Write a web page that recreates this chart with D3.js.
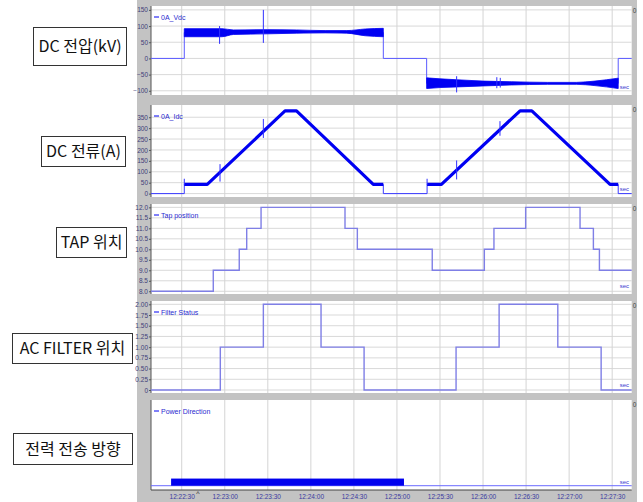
<!DOCTYPE html>
<html>
<head>
<meta charset="utf-8">
<script src="https://cdn.jsdelivr.net/npm/d3@7"></script>
<style>
  html, body { margin: 0; padding: 0; background: #fff; }
  svg { display: block; }
</style>
</head>
<body>
<svg id="chart" width="643" height="502"></svg>
<script>
// Time values are seconds after 12:22:00.
const timeTicks = ["12:22:30", "12:23:00", "12:23:30", "12:24:00", "12:24:30", "12:25:00",
                   "12:25:30", "12:26:00", "12:26:30", "12:27:00", "12:27:30"];
const timeStart = 8.6, timeEnd = 343.6;

// Panel titles (left) and trace legends
const panelTitles = ["DC 전압(kV)", "DC 전류(A)", "TAP 위치", "AC FILTER 위치", "전력 전송 방향"];
const traceNames = ["0A_Vdc", "0A_Idc", "Tap position", "Filter Status", "Power Direction"];

// DC voltage: stepped base trace
const vdcTime  = [8.6, 31.8, 31.8, 170.5, 170.5, 200.7, 200.7, 334.2, 334.2, 343.6];
const vdcValue = [0,   0,    80,   80,    0,     0,     -77,   -77,   0,     0];
// DC voltage: ripple envelope while energised (positive pole)
const vdcPosT  = [31.8, 58, 66, 90, 110, 130, 145, 158, 170.5];
const vdcPosLo = [67,   67, 74, 76, 78,  79,  78,  70,  67];
const vdcPosHi = [92,   92, 88, 89, 88,  86,  86,  91,  93];
// DC voltage: ripple envelope after reversal (negative pole)
const vdcNegT  = [200.7, 210, 222, 240, 260, 285, 305, 318, 334.2];
const vdcNegLo = [-93,   -90, -88, -85, -82, -80, -80, -84, -93];
const vdcNegHi = [-60,   -63, -66, -70, -72, -74, -74, -70, -61];
// DC voltage: transient spikes
const vdcSpikeT  = [56.4, 86.9, 221.6, 249.6, 252.0];
const vdcSpikeLo = [45,   48,   -105,  -92,   -90];
const vdcSpikeHi = [100,  150,  -55,   -58,   -60];

// DC current (A)
const idcTime  = [8.6, 31.8, 31.8, 47.8, 102, 110, 163.5, 170.5, 170.5, 201, 201, 211, 265.8, 274, 328.5, 334.2, 334.2, 343.6];
const idcValue = [0,   0,    42,   42,   379, 379, 42,    42,    0,     0,   42,  42,  379,   379, 42,    42,    0,     0];
// DC current: transient spikes
const idcSpikeT  = [31.8, 56.7, 86.9, 201, 221.6, 251.8];
const idcSpikeLo = [40,   55,   255,  40,  65,    265];
const idcSpikeHi = [68,   135,  342,  68,  152,   332];

// Transformer tap position (step after each time)
const tapTime  = [8.6, 52, 70.1, 75.3, 85.3, 143.8, 152.4, 204.6, 240.9, 247.6, 269.7, 307.6, 316.9, 321.1, 343.6];
const tapValue = [8,   9,  10,   11,   12,   11,    10,    9,     10,    11,    12,    11,    10,    9,     9];

// AC filter status (step after each time)
const filterTime  = [8.6, 56.9, 86.9, 127.1, 157.1, 221.2, 251.2, 292.1, 322.3, 343.6];
const filterValue = [0,   1,    2,    1,     0,     1,     2,     1,     0,     0];

// Power direction flag (step after each time)
const powerTime  = [8.6, 22.6, 184.9, 343.6];
const powerValue = [0,   1,    0,     0];

// Y-axis ticks per panel
const vdcTicks    = [-100, -50, 0, 50, 100, 150];
const idcTicks    = [0, 50, 100, 150, 200, 250, 300, 350];
const tapTicks    = [8.0, 8.5, 9.0, 9.5, 10.0, 10.5, 11.0, 11.5, 12.0];
const filterTicks = [0, 0.25, 0.5, 0.75, 1.0, 1.25, 1.5, 1.75, 2.0];

// ---------------------------------------------------------------
const svg = d3.select("#chart");
const base = new Date(2000, 0, 1, 12, 22, 0);
const toDate = s => new Date(base.getTime() + s * 1000);
const parseClock = d3.timeParse("%H:%M:%S");
const clockDate = str => {
  const p = parseClock(str);
  return new Date(2000, 0, 1, p.getHours(), p.getMinutes(), p.getSeconds());
};

const left = 151, right = 631.7;
const x = d3.scaleTime().domain([toDate(timeStart), toDate(timeEnd)]).range([left, right]);

const panels = [
  { top: 6,   bottom: 95,  domain: [-113, 162], ticks: vdcTicks,    fmt: d => d3.format("d")(d) },
  { top: 105, bottom: 197, domain: [-15.6, 406], ticks: idcTicks,   fmt: d => d3.format("d")(d) },
  { top: 204, bottom: 294, domain: [7.87, 12.16], ticks: tapTicks,  fmt: d => d3.format(".1f")(d) },
  { top: 301, bottom: 393, domain: [-0.07, 2.077], ticks: filterTicks, fmt: d => d === 0 ? "0" : d3.format(".2f")(d) },
  { top: 400, bottom: 490, domain: [-0.6, 12],  ticks: [],          fmt: d => d }
];
panels.forEach(p => { p.y = d3.scaleLinear().domain(p.domain).range([p.bottom, p.top]); });

const tickFont = "'Liberation Sans Narrow', 'Liberation Sans', Arial, sans-serif";
const blue = "#0000f2";
const stepBlue = "#7f7fe6";

// Grey frame behind the plot panels
svg.append("rect").attr("x", 137).attr("y", 0).attr("width", 500).attr("height", 502).attr("fill", "#c3c3c3");

const tickDates = timeTicks.map(clockDate);

panels.forEach((p, i) => {
  const g = svg.append("g");
  g.append("rect").attr("x", left).attr("y", p.top)
    .attr("width", right - left).attr("height", p.bottom - p.top).attr("fill", "#fff");

  // horizontal grid
  g.selectAll(".hg").data(p.ticks).join("line")
    .attr("x1", left).attr("x2", right)
    .attr("y1", d => p.y(d)).attr("y2", d => p.y(d))
    .attr("stroke", "#d9d9d9").attr("stroke-width", 1);
  // vertical grid
  g.selectAll(".vg").data(tickDates).join("line")
    .attr("x1", d => x(d)).attr("x2", d => x(d))
    .attr("y1", p.top).attr("y2", p.bottom)
    .attr("stroke", "#d4d4d4").attr("stroke-width", 1);

  // y axis
  const ax = g.append("g").attr("transform", `translate(${left},0)`)
    .call(d3.axisLeft(p.y).tickValues(p.ticks).tickFormat(p.fmt).tickSize(2).tickPadding(1));
  ax.select(".domain").attr("stroke", "#555").attr("d", `M0,${p.top}V${p.bottom}`);
  ax.selectAll(".tick line").attr("stroke", "#555");
  ax.selectAll("text").attr("font-family", tickFont).attr("font-size", 6.5).attr("fill", "#3f3f7a");

  // legend
  g.append("line").attr("x1", left + 3).attr("x2", left + 8)
    .attr("y1", p.top + 11).attr("y2", p.top + 11).attr("stroke", blue).attr("stroke-width", 1);
  g.append("text").attr("x", left + 10).attr("y", p.top + 13.5)
    .attr("font-family", tickFont).attr("font-size", 7).attr("fill", "#2a2ad0")
    .text(traceNames[i]);

  // unit label
  g.append("text").attr("x", right - 12).attr("y", p.bottom - 6)
    .attr("font-family", tickFont).attr("font-size", 6).attr("fill", "#3a3ad0")
    .text("sec");

  // corner glyph
  g.append("text").attr("x", right + 1).attr("y", p.top + 7)
    .attr("font-family", tickFont).attr("font-size", 6.5).attr("fill", "#444")
    .text("0");

  p.g = g;
});

// ---- Panel 1: DC voltage
{
  const p = panels[0];
  const pts = vdcTime.map((t, i) => [toDate(t), vdcValue[i]]);
  p.g.append("path").datum(pts)
    .attr("d", d3.line().x(d => x(d[0])).y(d => p.y(d[1])))
    .attr("fill", "none").attr("stroke", "#5a5aff").attr("stroke-width", 1);
  const area = d3.area().x(d => x(d[0])).y0(d => p.y(d[1])).y1(d => p.y(d[2])).curve(d3.curveMonotoneX);
  p.g.append("path").datum(vdcPosT.map((t, i) => [toDate(t), vdcPosLo[i], vdcPosHi[i]]))
    .attr("d", area).attr("fill", blue).attr("stroke", blue).attr("stroke-width", 0.8);
  p.g.append("path").datum(vdcNegT.map((t, i) => [toDate(t), vdcNegLo[i], vdcNegHi[i]]))
    .attr("d", area).attr("fill", blue).attr("stroke", blue).attr("stroke-width", 0.8);
  p.g.selectAll(".spk").data(vdcSpikeT.map((t, i) => [toDate(t), vdcSpikeLo[i], vdcSpikeHi[i]])).join("line")
    .attr("x1", d => x(d[0])).attr("x2", d => x(d[0]))
    .attr("y1", d => p.y(d[1])).attr("y2", d => p.y(d[2]))
    .attr("stroke", "#3030ff").attr("stroke-width", 1);
}

// ---- Panel 2: DC current
{
  const p = panels[1];
  const pts = idcTime.map((t, i) => [toDate(t), idcValue[i]]);
  const line = d3.line().x(d => x(d[0])).y(d => p.y(d[1]));
  p.g.append("path").datum(pts).attr("d", line)
    .attr("fill", "none").attr("stroke", "#3a3aff").attr("stroke-width", 1);
  p.g.append("path").datum(pts)
    .attr("d", line.defined(d => d[1] > 0))
    .attr("fill", "none").attr("stroke", blue).attr("stroke-width", 3.2).attr("stroke-linejoin", "round");
  p.g.selectAll(".spk").data(idcSpikeT.map((t, i) => [toDate(t), idcSpikeLo[i], idcSpikeHi[i]])).join("line")
    .attr("x1", d => x(d[0])).attr("x2", d => x(d[0]))
    .attr("y1", d => p.y(d[1])).attr("y2", d => p.y(d[2]))
    .attr("stroke", "#3030ff").attr("stroke-width", 1);
}

// ---- Panels 3 & 4: stepped status traces
function stepTrace(p, times, values) {
  p.g.append("path").datum(times.map((t, i) => [toDate(t), values[i]]))
    .attr("d", d3.line().x(d => x(d[0])).y(d => p.y(d[1])).curve(d3.curveStepAfter))
    .attr("fill", "none").attr("stroke", stepBlue).attr("stroke-width", 1.4);
}
stepTrace(panels[2], tapTime, tapValue);
stepTrace(panels[3], filterTime, filterValue);

// ---- Panel 5: power direction
{
  const p = panels[4];
  p.g.append("line").attr("x1", left).attr("x2", right)
    .attr("y1", p.y(0)).attr("y2", p.y(0)).attr("stroke", "#6a6aff").attr("stroke-width", 1);
  const segs = [];
  powerTime.forEach((t, i) => {
    if (powerValue[i] > 0 && i + 1 < powerTime.length) segs.push([t, powerTime[i + 1], powerValue[i]]);
  });
  p.g.selectAll(".pd").data(segs).join("rect")
    .attr("x", d => x(toDate(d[0]))).attr("width", d => x(toDate(d[1])) - x(toDate(d[0])))
    .attr("y", d => p.y(d[2])).attr("height", d => p.y(0) - p.y(d[2]))
    .attr("fill", "#0000ee");

  // time axis
  const xa = svg.append("g").attr("transform", `translate(0,${p.bottom})`)
    .call(d3.axisBottom(x).tickValues(tickDates).tickFormat(d3.timeFormat("%H:%M:%S")).tickSize(0).tickPadding(4));
  xa.select(".domain").attr("stroke", "#444").attr("d", `M${left},0H${right}`);
  xa.selectAll("text").attr("font-family", tickFont).attr("font-size", 6.5).attr("fill", "#3a3aa0");

  // cursor marker
  svg.append("text").attr("x", 198).attr("y", 496).attr("text-anchor", "middle")
    .attr("font-family", tickFont).attr("font-size", 7).attr("fill", "#222").text("^");
}

// ---- Left-hand boxed titles
const titleBoxes = [
  { x: 33, y: 27,  w: 93,  h: 38 },
  { x: 41, y: 136, w: 84,  h: 30 },
  { x: 56, y: 227, w: 70,  h: 30 },
  { x: 12, y: 333, w: 120, h: 30 },
  { x: 13, y: 433, w: 119, h: 31 }
];
titleBoxes.forEach((b, i) => {
  svg.append("rect").attr("x", b.x + 0.5).attr("y", b.y + 0.5).attr("width", b.w).attr("height", b.h)
    .attr("fill", "#fff").attr("stroke", "#333").attr("stroke-width", 1);
  svg.append("text").attr("x", b.x + b.w / 2 + 0.5).attr("y", b.y + b.h / 2 + 6)
    .attr("text-anchor", "middle")
    .attr("font-family", "'Noto Sans CJK KR', 'Noto Sans', sans-serif")
    .attr("font-size", 16).attr("fill", "#111")
    .text(panelTitles[i]);
});
</script>
</body>
</html>
